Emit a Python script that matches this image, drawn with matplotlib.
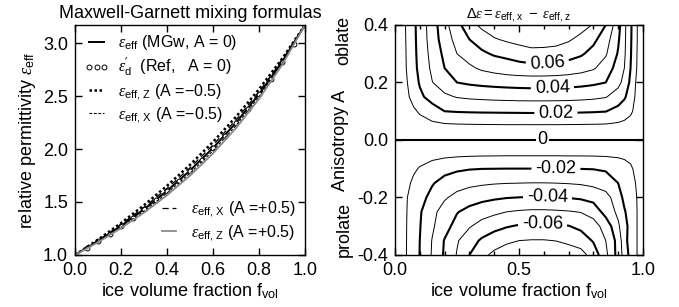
import numpy as np
import matplotlib
matplotlib.use("Agg")
import matplotlib.pyplot as plt

plt.rcParams['font.family'] = ['Liberation Sans', 'DejaVu Sans']
plt.rcParams['font.size'] = 13
plt.rcParams['mathtext.fontset'] = 'custom'
plt.rcParams['mathtext.rm'] = 'Liberation Sans'
plt.rcParams['mathtext.sf'] = 'Liberation Sans'
plt.rcParams['mathtext.it'] = 'Liberation Serif:italic'
plt.rcParams['axes.unicode_minus'] = False
plt.rcParams['contour.negative_linestyle'] = 'solid'

# --- left panel: effective permittivity vs ice volume fraction
vol = [0.0, 0.1, 0.2, 0.3, 0.4, 0.5, 0.6, 0.7, 0.8, 0.9, 1.0]
eps_mgw = [1.0, 1.131, 1.275, 1.432, 1.605, 1.797, 2.010, 2.248, 2.517, 2.821, 3.17]
eps_z_prol = [1.0, 1.145, 1.301, 1.470, 1.653, 1.851, 2.067, 2.304, 2.564, 2.851, 3.17]
eps_x_prol = [1.0, 1.126, 1.263, 1.415, 1.584, 1.772, 1.983, 2.222, 2.494, 2.807, 3.17]
eps_x_obl = [1.0, 1.138, 1.288, 1.450, 1.628, 1.823, 2.038, 2.275, 2.540, 2.836, 3.17]
eps_z_obl = [1.0, 1.120, 1.253, 1.400, 1.564, 1.749, 1.958, 2.197, 2.472, 2.792, 3.17]

vol_ref = [0.0, 0.05, 0.1, 0.15, 0.2, 0.25, 0.3, 0.35, 0.4, 0.45, 0.5,
           0.55, 0.6, 0.65, 0.7, 0.75, 0.8, 0.85, 0.9, 0.95, 1.0]
eps_ref = [1.0, 1.064, 1.131, 1.202, 1.275, 1.352, 1.432, 1.517, 1.605, 1.699, 1.797,
           1.900, 2.010, 2.126, 2.248, 2.378, 2.517, 2.664, 2.821, 2.990, 3.17]

# --- right panel: delta eps = eps_x - eps_z  (rows: anisotropy A, cols: volume fraction)
grid_f = [0, .025, .05, .075, .1, .15, .2, .25, .3, .35, .4, .45, .5, .55, .6, .65, .7, .75, .8,
          .85, .9, .925, .95, .975, 1.0]
grid_a = [-0.4, -0.35, -0.3, -0.25, -0.2, -0.15, -0.1, -0.05, 0.0,
          0.05, 0.1, 0.15, 0.2, 0.25, 0.3, 0.35, 0.4]
delta_eps = [
    [0, -.0054, -.0108, -.0155, -.0202, -.0309, -.0413, -.0506, -.060, -.0675, -.0722, -.0752, -.0772, -.078, -.078, -.0772, -.0752, -.0735, -.066, -.0525, -.0363, -.026, -.0168, -.0105, 0],
    [0, -.0054, -.0107, -.0154, -.020, -.0304, -.0406, -.0491, -.0556, -.0615, -.0655, -.0683, -.070, -.0705, -.0705, -.0698, -.068, -.0655, -.0591, -.050, -.0365, -.0235, -.0157, -.0105, 0],
    [0, -.0053, -.0106, -.015, -.0195, -.0286, -.0362, -.0437, -.0492, -.0535, -.0568, -.0593, -.061, -.062, -.062, -.0612, -.0604, -.0575, -.0535, -.0467, -.0315, -.0245, -.0157, -.0105, 0],
    [0, -.0052, -.0104, -.0146, -.0189, -.0275, -.0339, -.0394, -.0432, -.046, -.048, -.050, -.0511, -.0517, -.0517, -.0513, -.0507, -.0496, -.0468, -.036, -.028, -.021, -.0155, -.0105, 0],
    [0, -.005, -.010, -.0135, -.0166, -.023, -.0289, -.0327, -.0352, -.0372, -.0386, -.0396, -.0401, -.0404, -.0404, -.0401, -.0396, -.0386, -.0362, -.0335, -.0247, -.0175, -.0138, -.010, 0],
    [0, -.004, -.0081, -.0119, -.0148, -.0192, -.0235, -.0262, -.0278, -.0287, -.0294, -.0298, -.030, -.0302, -.0302, -.030, -.0296, -.029, -.0278, -.0252, -.020, -.0165, -.0133, -.0092, 0],
    [0, -.0029, -.0058, -.0085, -.0108, -.0142, -.0168, -.0185, -.0195, -.0199, -.020, -.0201, -.0201, -.0201, -.0201, -.0201, -.020, -.0199, -.0197, -.0188, -.0165, -.0145, -.0118, -.0069, 0],
    [0, -.0015, -.003, -.0043, -.0055, -.0069, -.0077, -.0082, -.0085, -.0087, -.0088, -.0089, -.0089, -.0089, -.0089, -.0089, -.0088, -.0088, -.0087, -.0085, -.008, -.0075, -.0065, -.0042, 0],
    [0, 0, 0, 0, 0, 0, 0, 0, 0, 0, 0, 0, 0, 0, 0, 0, 0, 0, 0, 0, 0, 0, 0, 0, 0],
    [0, .0017, .0033, .0048, .006, .0075, .0083, .0087, .0089, .009, .0091, .0092, .0092, .0092, .0092, .0092, .0091, .009, .0089, .0087, .0082, .0077, .0065, .004, 0],
    [0, .0028, .0057, .0085, .0112, .0158, .020, .0206, .0209, .0211, .0212, .0213, .0214, .0215, .0215, .0214, .0213, .0211, .0208, .0203, .0165, .014, .0115, .0071, 0],
    [0, .0043, .0086, .0133, .0181, .0236, .0282, .0305, .0315, .0321, .0326, .0329, .0332, .0333, .0333, .0332, .033, .0325, .0318, .0305, .0257, .0213, .0153, .0076, 0],
    [0, .005, .010, .0156, .0209, .0297, .0349, .040, .0415, .0425, .0432, .0438, .0442, .0445, .0445, .0443, .0438, .043, .0418, .040, .0326, .0271, .018, .0083, 0],
    [0, .0054, .011, .0171, .0225, .0319, .040, .0442, .0483, .0515, .0535, .0552, .0563, .0568, .0567, .0562, .0552, .0535, .051, .0456, .0358, .030, .020, .010, 0],
    [0, .0056, .0112, .0175, .0232, .0333, .0422, .050, .0542, .0583, .0611, .0625, .0645, .0665, .0665, .066, .064, .0613, .0567, .0511, .0391, .0315, .0209, .0104, 0],
    [0, .0057, .0115, .0178, .0236, .0346, .0449, .0533, .060, .0645, .0691, .0715, .0735, .075, .0745, .0735, .0712, .0672, .0624, .0544, .0414, .032, .0213, .0109, 0],
    [0, .0058, .0118, .018, .024, .0351, .0467, .0568, .0663, .0723, .076, .079, .082, .083, .0825, .081, .078, .074, .0693, .060, .0437, .0325, .0217, .0109, 0],
]
thin_levels = [-0.07, -0.05, -0.03, -0.01, 0.01, 0.03, 0.05, 0.07]
thick_levels = [-0.06, -0.04, -0.02, 0.02, 0.04, 0.06]
label_pos = [(0.595, -0.29), (0.615, -0.198), (0.649, -0.1), (0.649, 0.093), (0.635, 0.176), (0.615, 0.263)]

fig = plt.figure(figsize=(6.79, 3.07), dpi=100)
ax1 = fig.add_axes([0.1105, 0.1694, 0.3387, 0.7492])
ax2 = fig.add_axes([0.5817, 0.1694, 0.3652, 0.7492])

# left
l1, = ax1.plot(vol, eps_mgw, color='k', lw=1.4)
l2, = ax1.plot(vol_ref, eps_ref, 'o', mfc='white', mec='k', ms=3.5, mew=0.7)
l3, = ax1.plot(vol, eps_z_prol, color='k', lw=1.8, ls=(0, (1, 1)))
l4, = ax1.plot(vol, eps_x_prol, color='k', lw=0.8, ls=(0, (2.5, 1.5)))
l5, = ax1.plot(vol, eps_x_obl, color='k', lw=0.9, ls=(0, (5, 3)))
l6, = ax1.plot(vol, eps_z_obl, color='#8a8a8a', lw=1.3)

leg_kw = dict(frameon=False, fontsize=11.5, handlelength=1.5, handletextpad=0.6,
              labelspacing=0.2, borderaxespad=0.2, numpoints=3)
leg1 = ax1.legend([l1, l2, l3, l4],
                  [r'$\varepsilon_{\mathrm{eff}}$ (MGw, A = 0)',
                   r"$\varepsilon^{\prime}_{\mathrm{d}}$  (Ref,   A = 0)",
                   r'$\varepsilon_{\mathrm{eff,\,Z}}$ (A =−0.5)',
                   r'$\varepsilon_{\mathrm{eff,\,X}}$ (A =−0.5)'],
                  loc='upper left', bbox_to_anchor=(0.0, 1.005), **leg_kw)
ax1.add_artist(leg1)
ax1.legend([l5, l6],
           [r'$\varepsilon_{\mathrm{eff,\,X}}$ (A =+0.5)',
            r'$\varepsilon_{\mathrm{eff,\,Z}}$ (A =+0.5)'],
           loc='lower right', bbox_to_anchor=(1.0, 0.012), **leg_kw)

ax1.set_xlim(0, 1)
ax1.set_ylim(1.0, 3.17)
ax1.set_xticks([0, 0.2, 0.4, 0.6, 0.8, 1.0])
ax1.set_yticks([1.0, 1.5, 2.0, 2.5, 3.0])
ax1.xaxis.set_major_formatter(matplotlib.ticker.FormatStrFormatter('%.1f'))
ax1.yaxis.set_major_formatter(matplotlib.ticker.FormatStrFormatter('%.1f'))
ax1.set_xlabel(r'ice volume fraction f$_{\mathrm{vol}}$', labelpad=2)
ax1.set_ylabel(r'relative permittivity $\varepsilon_{\mathrm{eff}}$', labelpad=4)
ax1.set_title('Maxwell-Garnett mixing formulas', fontsize=13, pad=5)

# right
F, A = np.meshgrid(grid_f, grid_a)
D = np.array(delta_eps)
ax2.contour(F, A, D, levels=thin_levels, colors='k', linewidths=0.7)
cs = ax2.contour(F, A, D, levels=thick_levels, colors='k', linewidths=1.5)
ax2.clabel(cs, manual=label_pos, inline=True, inline_spacing=4,
           fontsize=13, fmt=lambda v: '%.2f' % v)
ax2.axhline(0, color='k', lw=1.5)
ax2.text(0.595, 0.0, '0', ha='center', va='center', fontsize=13,
         bbox=dict(facecolor='white', edgecolor='none', pad=1))

ax2.set_xlim(0, 1)
ax2.set_ylim(-0.4, 0.4)
ax2.set_xticks([0, 0.5, 1.0])
ax2.set_xticks(np.arange(0.1, 1.0, 0.1), minor=True)
ax2.set_yticks([-0.4, -0.2, 0.0, 0.2, 0.4])
ax2.xaxis.set_major_formatter(matplotlib.ticker.FormatStrFormatter('%.1f'))
ax2.yaxis.set_major_formatter(matplotlib.ticker.FormatStrFormatter('%.1f'))
ax2.set_xlabel(r'ice volume fraction f$_{\mathrm{vol}}$', labelpad=2)
ax2.set_ylabel('Anisotropy A', labelpad=6)
ax2.text(-0.205, 0.935, 'oblate', transform=ax2.transAxes, rotation=90,
         ha='center', va='center', fontsize=13)
ax2.text(-0.205, 0.11, 'prolate', transform=ax2.transAxes, rotation=90,
         ha='center', va='center', fontsize=13)
ax2.set_title(r'$\Delta\varepsilon = \varepsilon_{\mathrm{eff,\,x}}\ -\ \varepsilon_{\mathrm{eff,\,z}}$',
              fontsize=10.5, pad=5)

for ax in (ax1, ax2):
    ax.tick_params(which='both', direction='in', top=True, right=True)
    ax.tick_params(which='major', length=5, width=1, pad=5)
    ax.tick_params(which='minor', length=3, width=1)
    for s in ax.spines.values():
        s.set_linewidth(1)

fig.savefig('out.png', dpi=100)
